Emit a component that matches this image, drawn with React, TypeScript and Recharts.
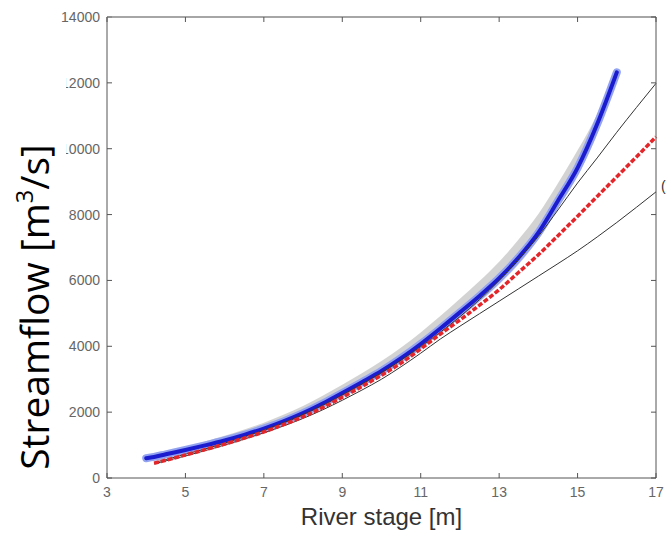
import React from 'react'
import { ComposedChart, Line, Area, XAxis, YAxis } from 'recharts'

// river stage [m]
const stages = [4, 4.2, 4.5, 5, 5.5, 6, 6.5, 7, 7.5, 8, 8.5, 9, 9.5, 10, 10.5, 11, 11.5, 12, 12.5, 13, 13.5, 14, 14.5, 15, 15.5, 16, 16.5, 17]

// streamflow [m3/s]
const blueCurve = [600, 640, 720, 850, 990, 1140, 1310, 1500, 1720, 1970, 2260, 2580, 2910, 3250, 3640, 4070, 4540, 5030, 5530, 6070, 6700, 7450, 8420, 9420, 10750, 12320, null, null]
const redCurve = [null, 450, 540, 700, 860, 1030, 1210, 1400, 1620, 1860, 2140, 2450, 2780, 3120, 3490, 3920, 4370, 4800, 5250, 5720, 6250, 6780, 7360, 7950, 8550, 9150, 9750, 10360]
const upperBound = [null, 470, 560, 720, 880, 1060, 1250, 1450, 1680, 1930, 2210, 2520, 2850, 3200, 3580, 3990, 4430, 4900, 5420, 6000, 6650, 7340, 8140, 8960, 9720, 10500, 11250, 11985]
const lowerBound = [null, 430, 520, 670, 830, 1000, 1180, 1370, 1580, 1810, 2070, 2360, 2670, 3000, 3380, 3790, 4220, 4610, 4990, 5370, 5750, 6130, 6510, 6900, 7320, 7760, 8220, 8690]
const bandLow = [560, 580, 640, 760, 900, 1060, 1240, 1430, 1650, 1890, 2170, 2480, 2800, 3140, 3520, 3930, 4380, 4860, 5350, 5880, 6490, 7240, 8180, 9180, 10450, 12150, null, null]
const bandHigh = [670, 720, 800, 950, 1110, 1280, 1470, 1680, 1920, 2190, 2500, 2830, 3180, 3550, 3960, 4420, 4920, 5440, 5980, 6570, 7250, 8020, 8950, 9950, 11050, 12450, null, null]

const xTicks = [3, 5, 7, 9, 11, 13, 15, 17]
const yTicks = [0, 2000, 4000, 6000, 8000, 10000, 12000, 14000]
const xMin = 3
const xMax = 17
const yMax = 14000

const data = stages.map((s, i) => ({
  stage: s,
  blue: blueCurve[i],
  red: redCurve[i],
  upper: upperBound[i],
  lower: lowerBound[i],
  band: bandLow[i] == null ? null : [bandLow[i], bandHigh[i]],
}))

const W = 666
const H = 535
const margin = { top: 17, right: 10, bottom: 0, left: 0 }
const yAxisW = 107
const xAxisH = 57
const plotL = margin.left + yAxisW
const plotT = margin.top
const plotW = W - margin.left - margin.right - yAxisW
const plotH = H - margin.top - margin.bottom - xAxisH

const axisColor = '#555'
const tickFont = '"Liberation Sans", Arial, sans-serif'

function BottomTick({ x, y, payload }: any) {
  return (
    <g>
      <line x1={x} y1={y} x2={x} y2={y - 5} stroke={axisColor} />
      <text x={x} y={y + 19} textAnchor="middle" fontSize={14} fill="#666" fontFamily={tickFont}>
        {payload.value}
      </text>
    </g>
  )
}

function LeftTick({ x, y, payload }: any) {
  return (
    <g>
      <line x1={x} y1={y} x2={x + 5} y2={y} stroke={axisColor} />
      <text x={x - 7} y={y + 5} textAnchor="end" fontSize={14} fill="#666" fontFamily={tickFont}>
        {payload.value}
      </text>
    </g>
  )
}

// top and right edge of the box, with inward ticks (frame only)
function BoxFrame() {
  const right = plotL + plotW
  const bottom = plotT + plotH
  return (
    <svg width={W} height={H} style={{ position: 'absolute', left: 0, top: 0, pointerEvents: 'none' }}>
      <line x1={plotL} y1={plotT} x2={right} y2={plotT} stroke="#888" strokeWidth={1.5} />
      <line x1={right} y1={plotT} x2={right} y2={bottom} stroke={axisColor} />
      {xTicks.map((t) => {
        const px = plotL + ((t - xMin) / (xMax - xMin)) * plotW
        return <line key={'t' + t} x1={px} y1={plotT} x2={px} y2={plotT + 5} stroke={axisColor} />
      })}
      {yTicks.map((t) => {
        const py = bottom - (t / yMax) * plotH
        return <line key={'r' + t} x1={right} y1={py} x2={right - 5} y2={py} stroke={axisColor} />
      })}
    </svg>
  )
}

export default function App() {
  return (
    <div style={{ position: 'absolute', left: 0, top: 0, width: W, height: H, background: '#fff' }}>
      <ComposedChart width={W} height={H} data={data} margin={margin}>
        <XAxis
          dataKey="stage"
          type="number"
          domain={[xMin, xMax]}
          ticks={xTicks}
          height={xAxisH}
          tickSize={0}
          tickMargin={0}
          tick={<BottomTick />}
          axisLine={{ stroke: axisColor }}
          label={{ value: 'River stage [m]', position: 'insideBottom', offset: 10, fontSize: 24, fill: '#333', fontFamily: tickFont }}
        />
        <YAxis
          type="number"
          domain={[0, yMax]}
          ticks={yTicks}
          width={yAxisW}
          tickSize={0}
          tickMargin={0}
          tick={<LeftTick />}
          axisLine={{ stroke: axisColor }}
        />
        <Area
          dataKey="band"
          type="monotone"
          stroke="none"
          fill="#c4c4c4"
          fillOpacity={0.75}
          isAnimationActive={false}
        />
        <Line dataKey="blue" type="monotone" stroke="#93a3f0" strokeWidth={8} dot={false} strokeLinecap="round" isAnimationActive={false} />
        <Line dataKey="blue" type="monotone" stroke="#1b1bd0" strokeWidth={4} dot={false} strokeLinecap="round" isAnimationActive={false} />
        <Line dataKey="upper" type="monotone" stroke="#333" strokeWidth={1} dot={false} isAnimationActive={false} />
        <Line dataKey="lower" type="monotone" stroke="#333" strokeWidth={1} dot={false} isAnimationActive={false} />
        <Line dataKey="red" type="monotone" stroke="#e4262a" strokeWidth={3.5} strokeDasharray="5 2" dot={false} isAnimationActive={false} />
      </ComposedChart>
      <BoxFrame />
      <div style={{ position: 'absolute', left: 0, top: 72, width: 66, height: 410, background: '#fff' }} />
      <div
        style={{
          position: 'absolute',
          left: 33,
          top: 307,
          transform: 'translate(-50%, -50%) rotate(-90deg)',
          whiteSpace: 'nowrap',
          fontFamily: '"Open Sans", sans-serif',
          fontSize: 39,
          color: '#000',
          lineHeight: 1,
        }}
      >
        Streamflow [m<sup style={{ fontSize: '0.6em', verticalAlign: '0.7em' }}>3</sup>/s]
      </div>
      <div style={{ position: 'absolute', left: 661, top: 178, fontSize: 14, color: '#333', fontFamily: tickFont }}>(</div>
    </div>
  )
}
